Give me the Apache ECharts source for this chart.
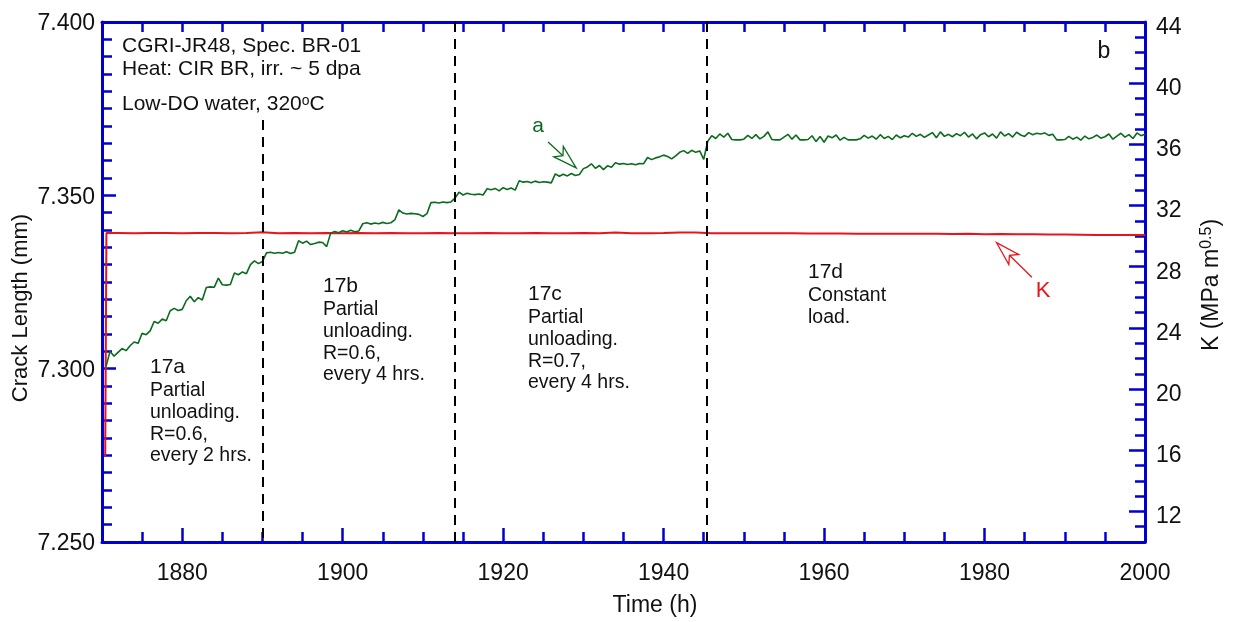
<!DOCTYPE html>
<html>
<head>
<meta charset="utf-8">
<script src="https://cdn.jsdelivr.net/npm/echarts@6/dist/echarts.min.js"></script>
<style>
  html, body { margin: 0; padding: 0; background: #fff; }
  #chart { width: 1233px; height: 622px; }
</style>
</head>
<body>
<div id="chart"></div>
<script>
const FONT = '"Liberation Sans", Arial, Helvetica, sans-serif';
const AXIS_BLUE = '#0000d0';
const GREEN = '#0b6b1f';
const RED = '#e8141c';
const INK = '#111111';

// ---- axes ----
const timeRange = [1870, 2000];
const timeTickLabels = [1880, 1900, 1920, 1940, 1960, 1980, 2000];
const crackRange = [7.25, 7.40];
const crackTickLabels = [7.25, 7.30, 7.35, 7.40];
const kRange = [10, 44];
const kTickLabels = [12, 16, 20, 24, 28, 32, 36, 40, 44];

// ---- crack length a (mm), logged every 0.5 h from 1870.5 h ----
const crackStart = 1870.5;
const crackStep = 0.5;
const crackLength = [
  7.3006, 7.3050, 7.3036, 7.3047, 7.3058, 7.3052, 7.3066, 7.3077, 7.3073, 7.3102, // 1870.5-1875.0
  7.3098, 7.3109, 7.3136, 7.3131, 7.3143, 7.3138, 7.3167, 7.3174, 7.3168, 7.3171, // 1875.5-1880.0
  7.3196, 7.3209, 7.3193, 7.3205, 7.3198, 7.3234, 7.3236, 7.3235, 7.3261, 7.3242, // 1880.5-1885.0
  7.3241, 7.3243, 7.3276, 7.3271, 7.3279, 7.3274, 7.3300, 7.3311, 7.3303, 7.3309, // 1885.5-1890.0
  7.3334, 7.3336, 7.3333, 7.3335, 7.3333, 7.3337, 7.3332, 7.3336, 7.3369, 7.3362, // 1890.5-1895.0
  7.3368, 7.3358, 7.3361, 7.3365, 7.3364, 7.3352, 7.3391, 7.3396, 7.3392, 7.3398, // 1895.5-1900.0
  7.3394, 7.3399, 7.3395, 7.3397, 7.3418, 7.3421, 7.3417, 7.3420, 7.3418, 7.3422, // 1900.5-1905.0
  7.3419, 7.3421, 7.3429, 7.3458, 7.3449, 7.3446, 7.3448, 7.3447, 7.3445, 7.3439, // 1905.5-1910.0
  7.3447, 7.3479, 7.3480, 7.3478, 7.3481, 7.3479, 7.3481, 7.3492, 7.3509, 7.3501, // 1910.5-1915.0
  7.3506, 7.3503, 7.3502, 7.3504, 7.3501, 7.3519, 7.3516, 7.3520, 7.3513, 7.3522, // 1915.5-1920.0
  7.3517, 7.3521, 7.3515, 7.3542, 7.3538, 7.3540, 7.3536, 7.3541, 7.3537, 7.3539, // 1920.5-1925.0
  7.3538, 7.3536, 7.3562, 7.3555, 7.3561, 7.3556, 7.3563, 7.3557, 7.3560, 7.3577, // 1925.5-1930.0
  7.3582, 7.3591, 7.3578, 7.3586, 7.3574, 7.3585, 7.3581, 7.3594, 7.3590, 7.3592, // 1930.5-1935.0
  7.3589, 7.3591, 7.3588, 7.3592, 7.3591, 7.3609, 7.3603, 7.3608, 7.3611, 7.3616, // 1935.5-1940.0
  7.3612, 7.3605, 7.3614, 7.3624, 7.3629, 7.3621, 7.3630, 7.3624, 7.3628, 7.3604, // 1940.5-1945.0
  7.3656, 7.3672, 7.3664, 7.3677, 7.3668, 7.3679, 7.3661, 7.3660, 7.3660, 7.3662, // 1945.5-1950.0
  7.3673, 7.3664, 7.3675, 7.3663, 7.3670, 7.3683, 7.3661, 7.3660, 7.3660, 7.3668, // 1950.5-1955.0
  7.3676, 7.3662, 7.3674, 7.3660, 7.3660, 7.3661, 7.3672, 7.3655, 7.3670, 7.3653, // 1955.5-1960.0
  7.3671, 7.3666, 7.3674, 7.3659, 7.3667, 7.3660, 7.3660, 7.3660, 7.3663, 7.3673, // 1960.5-1965.0
  7.3665, 7.3671, 7.3662, 7.3675, 7.3664, 7.3670, 7.3661, 7.3674, 7.3666, 7.3672, // 1965.5-1970.0
  7.3668, 7.3679, 7.3670, 7.3676, 7.3667, 7.3674, 7.3681, 7.3666, 7.3683, 7.3670, // 1970.5-1975.0
  7.3676, 7.3669, 7.3678, 7.3672, 7.3682, 7.3668, 7.3677, 7.3663, 7.3675, 7.3680, // 1975.5-1980.0
  7.3669, 7.3677, 7.3665, 7.3683, 7.3671, 7.3678, 7.3668, 7.3682, 7.3674, 7.3670, // 1980.5-1985.0
  7.3681, 7.3675, 7.3679, 7.3677, 7.3680, 7.3673, 7.3676, 7.3660, 7.3660, 7.3661, // 1985.5-1990.0
  7.3670, 7.3662, 7.3668, 7.3659, 7.3671, 7.3663, 7.3667, 7.3674, 7.3665, 7.3669, // 1990.5-1995.0
  7.3677, 7.3662, 7.3671, 7.3679, 7.3668, 7.3675, 7.3664, 7.3680, 7.3672, 7.3676  // 1995.5-2000.0
];

// ---- stress intensity K (MPa m^0.5) ----
const kRampTimes = [1870.4, 1870.55];
const kRampValues = [15.6, 30.2];
const kStart = 1872;
const kStep = 2;
const kValues = [
  30.20, 30.19, 30.20, 30.21, 30.19, 30.20, 30.20, 30.19, 30.21, 30.26, // 1872-1890
  30.19, 30.20, 30.19, 30.20, 30.19, 30.20, 30.19, 30.20, 30.19, 30.19, // 1892-1910
  30.20, 30.19, 30.19, 30.20, 30.19, 30.19, 30.20, 30.19, 30.19, 30.21, // 1912-1930
  30.19, 30.23, 30.19, 30.19, 30.20, 30.23, 30.24, 30.19, 30.19, 30.18, // 1932-1950
  30.18, 30.18, 30.18, 30.17, 30.17, 30.17, 30.16, 30.16, 30.16, 30.15, // 1952-1970
  30.15, 30.15, 30.14, 30.15, 30.13, 30.14, 30.12, 30.13, 30.11, 30.10, // 1972-1990
  30.09, 30.08, 30.08, 30.07, 30.07                                     // 1992-2000
];

// ---- test phase boundaries (h) and top of each divider (mm) ----
const phaseBounds = [1890, 1914, 1945.4];
const phaseTops = [7.3717, 7.40, 7.40];

// ---- arrows: tail and tip in data units ----
const crackArrow = { tail: [1925.6, 7.3654], tip: [1929.1, 7.3579] };
const kArrow = { tail: [1985.9, 27.31], tip: [1981.5, 29.57] };

const crackPoints = crackLength.map((v, i) => [crackStart + i * crackStep, v]);
const kPoints = kRampTimes.map((t, i) => [t, kRampValues[i]])
  .concat(kValues.map((v, i) => [kStart + i * kStep, v]));

const tickLine = { color: AXIS_BLUE, width: 2.5 };
const labelStyle = { fontFamily: FONT, fontSize: 23, color: INK };

function baseAxis(extra) {
  return Object.assign({
    type: 'value',
    splitLine: { show: false },
    axisLine: { show: true, onZero: false, lineStyle: { color: AXIS_BLUE, width: 3 } },
    axisTick: { show: true, inside: true, length: 10, lineStyle: tickLine },
    axisLabel: { show: false }
  }, extra);
}

const chart = echarts.init(document.getElementById('chart'), null, { renderer: 'canvas' });

const option = {
  animation: false,
  backgroundColor: '#ffffff',
  grid: { left: 102, right: 88, top: 22, bottom: 80, containLabel: false },
  xAxis: [
    baseAxis({
      position: 'bottom', min: timeRange[0], max: timeRange[1], interval: 5,
      axisLabel: Object.assign({
        show: true, margin: 20, customValues: timeTickLabels,
        formatter: v => String(Math.round(v))
      }, labelStyle)
    }),
    baseAxis({
      position: 'bottom', min: timeRange[0], max: timeRange[1],
      axisLine: { show: false },
      axisTick: { show: true, inside: true, length: 14, lineStyle: tickLine, customValues: timeTickLabels }
    }),
    baseAxis({ position: 'top', min: timeRange[0], max: timeRange[1], interval: 5 })
  ],
  yAxis: [
    baseAxis({
      position: 'left', min: crackRange[0], max: crackRange[1], interval: 0.005,
      axisLabel: Object.assign({
        show: true, margin: 7, customValues: crackTickLabels,
        verticalAlign: 'top', lineHeight: 4,
        formatter: v => v.toFixed(3)
      }, labelStyle)
    }),
    baseAxis({
      position: 'right', min: kRange[0], max: kRange[1], interval: 1,
      axisLabel: Object.assign({
        show: true, margin: 11, customValues: kTickLabels,
        verticalAlign: 'top', lineHeight: 11,
        formatter: v => String(Math.round(v))
      }, labelStyle)
    }),
    baseAxis({
      position: 'left', min: crackRange[0], max: crackRange[1],
      axisLine: { show: false },
      axisTick: { show: true, inside: true, length: 14, lineStyle: tickLine, customValues: crackTickLabels }
    }),
    baseAxis({
      position: 'right', min: kRange[0], max: kRange[1],
      axisLine: { show: false },
      axisTick: { show: true, inside: true, length: 16, lineStyle: tickLine, customValues: kTickLabels }
    })
  ],
  series: [
    {
      name: 'K',
      type: 'line',
      xAxisIndex: 0,
      yAxisIndex: 1,
      data: kPoints,
      showSymbol: false,
      symbol: 'none',
      lineStyle: { color: RED, width: 2 },
      z: 3,
      silent: true
    },
    {
      name: 'a',
      type: 'line',
      xAxisIndex: 0,
      yAxisIndex: 0,
      data: crackPoints,
      showSymbol: false,
      symbol: 'none',
      lineStyle: { color: GREEN, width: 1.6 },
      z: 4,
      silent: true,
      markLine: {
        silent: true,
        symbol: ['none', 'none'],
        label: { show: false },
        lineStyle: { color: '#000000', width: 2, type: [10, 7] },
        data: phaseBounds.map((t, i) => [
          { coord: [t, phaseTops[i]] },
          { coord: [t, crackRange[0]] }
        ])
      }
    }
  ]
};

chart.setOption(option);

// ---- annotations ----
function txt(text, x, y, size, color, align, rich) {
  const style = {
    text: text, x: 0, y: 0,
    fontFamily: FONT, fontSize: size, fill: color || INK,
    textAlign: align || 'left', textVerticalAlign: 'middle',
    align: align || 'left', verticalAlign: 'middle'
  };
  if (rich) style.rich = rich;
  return { type: 'text', silent: true, z: 20, x: x, y: y, style: style };
}

function arrowShapes(ar, xIdx, yIdx, color) {
  const tail = chart.convertToPixel({ xAxisIndex: xIdx, yAxisIndex: yIdx }, ar.tail);
  const tip = chart.convertToPixel({ xAxisIndex: xIdx, yAxisIndex: yIdx }, ar.tip);
  const dx = tip[0] - tail[0], dy = tip[1] - tail[1];
  const len = Math.hypot(dx, dy);
  const ux = dx / len, uy = dy / len;
  const px = -uy, py = ux;
  const L = 24, W = 7, N = 18;
  const b1 = [tip[0] - L * ux + W * px, tip[1] - L * uy + W * py];
  const b2 = [tip[0] - L * ux - W * px, tip[1] - L * uy - W * py];
  const notch = [tip[0] - N * ux, tip[1] - N * uy];
  return [
    { type: 'polyline', silent: true, z: 21, shape: { points: [tail, notch] },
      style: { stroke: color, lineWidth: 1.3, fill: null } },
    { type: 'polygon', silent: true, z: 21, shape: { points: [tip, b1, notch, b2] },
      style: { stroke: color, lineWidth: 1.3, fill: '#ffffff' } }
  ];
}

const phaseNotes = [
  { x: 150, y: 367, head: '17a', lines: ['Partial', 'unloading.', 'R=0.6,', 'every 2 hrs.'] },
  { x: 323, y: 286, head: '17b', lines: ['Partial', 'unloading.', 'R=0.6,', 'every 4 hrs.'] },
  { x: 528, y: 294, head: '17c', lines: ['Partial', 'unloading.', 'R=0.7,', 'every 4 hrs.'] },
  { x: 808, y: 272, head: '17d', lines: ['Constant', 'load.'] }
];

const supStyle = (size) => ({ fontFamily: FONT, fontSize: size, fill: INK, verticalAlign: 'top', lineHeight: size });

const graphics = [];
graphics.push(txt('CGRI-JR48, Spec. BR-01', 122, 46, 21));
graphics.push(txt('Heat: CIR BR, irr. ~ 5 dpa', 122, 69, 21));
graphics.push(txt('Low-DO water, 320{s|o}C', 122, 104.5, 21, INK, 'left', { s: supStyle(14) }));
graphics.push(txt('b', 1104, 52, 23, INK, 'center'));

phaseNotes.forEach(n => {
  graphics.push(txt(n.head, n.x, n.y, 21));
  n.lines.forEach((s, i) => graphics.push(txt(s, n.x, n.y + 24 + i * 21.7, 19.5)));
});

graphics.push(txt('a', 538, 126, 21, GREEN, 'center'));
graphics.push(txt('K', 1043, 291, 22, RED, 'center'));
arrowShapes(crackArrow, 0, 0, GREEN).forEach(g => graphics.push(g));
arrowShapes(kArrow, 0, 1, RED).forEach(g => graphics.push(g));

// axis titles
graphics.push(txt('Time (h)', 655, 606, 23, INK, 'center'));
const leftTitle = txt('Crack Length (mm)', 21, 308, 22, INK, 'center');
leftTitle.rotation = Math.PI / 2;
graphics.push(leftTitle);
const rightTitle = txt('{t|K (MPa m}{s|0.5}{t|)}', 1212, 285, 23, INK, 'center', {
  t: { fontFamily: FONT, fontSize: 23, fill: INK, lineHeight: 27 },
  s: supStyle(16)
});
rightTitle.rotation = Math.PI / 2;
graphics.push(rightTitle);

chart.setOption({ graphic: { elements: graphics } });
</script>
</body>
</html>
